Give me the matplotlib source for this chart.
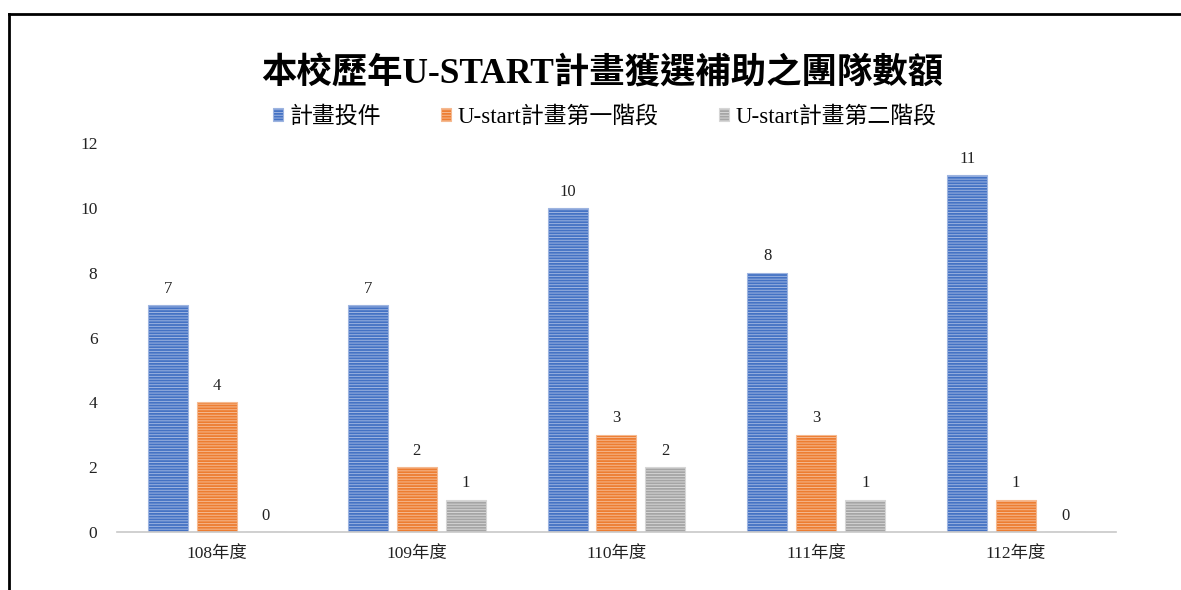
import numpy as np
import matplotlib.pyplot as plt
from matplotlib.lines import Line2D

plt.rcParams['font.family'] = ['Liberation Serif', 'Noto Sans CJK TC', 'DejaVu Sans']
plt.rcParams['hatch.linewidth'] = 0.7

# data
years = ['108年度', '109年度', '110年度', '111年度', '112年度']
series_names = ['計畫投件', 'U-start計畫第一階段', 'U-start計畫第二階段']
proposals = [7, 7, 10, 8, 11]
stage_one = [4, 2, 3, 3, 1]
stage_two = [0, 1, 2, 1, 0]

colors = ['#4472C4', '#ED7D31', '#A5A5A5']
stripe = ['#9DB4E0', '#F5B990', '#D6D6D6']

fig = plt.figure(figsize=(11.81, 5.9), dpi=100)
ax = fig.add_axes([0.099, 0.0983, 0.846, 0.6593])

x = np.arange(len(years))
w = 0.2
step = 0.245
for i, vals in enumerate([proposals, stage_one, stage_two]):
    bars = ax.bar(x + (i - 1) * step, vals, w, color=colors[i],
                  edgecolor=stripe[i], linewidth=0.8, hatch='------',
                  label=series_names[i])
    ax.bar_label(bars, padding=6, fontsize=12, color='#222222')

ax.set_xlim(-0.5, len(years) - 0.5)
ax.set_ylim(0, 12)
ax.set_yticks(range(0, 13, 2))
ax.set_xticks(x)
ax.set_xticklabels(years)
ax.tick_params(length=0, labelsize=12.5, colors='#222222')
ax.tick_params(axis='y', pad=14)
ax.tick_params(axis='x', pad=10)
for s in ['top', 'right', 'left']:
    ax.spines[s].set_visible(False)
ax.spines['bottom'].set_color('#C8C8C8')
ax.spines['bottom'].set_linewidth(1.2)

fig.text(0.51, 0.874, '本校歷年U-START計畫獲選補助之團隊數額', ha='center', va='center',
         fontsize=25.5, fontweight='bold')
fig.legend(loc='center', bbox_to_anchor=(0.512, 0.802), ncol=3, frameon=False,
           fontsize=16.5, handlelength=0.45, handleheight=0.45, handletextpad=0.3,
           columnspacing=2.6)

# page border
fig.add_artist(Line2D([0.0076, 1.0], [0.976, 0.976], color='black', lw=2))
fig.add_artist(Line2D([0.0076, 0.0076], [0.0, 0.976], color='black', lw=2))

fig.savefig('out.png', dpi=100)
